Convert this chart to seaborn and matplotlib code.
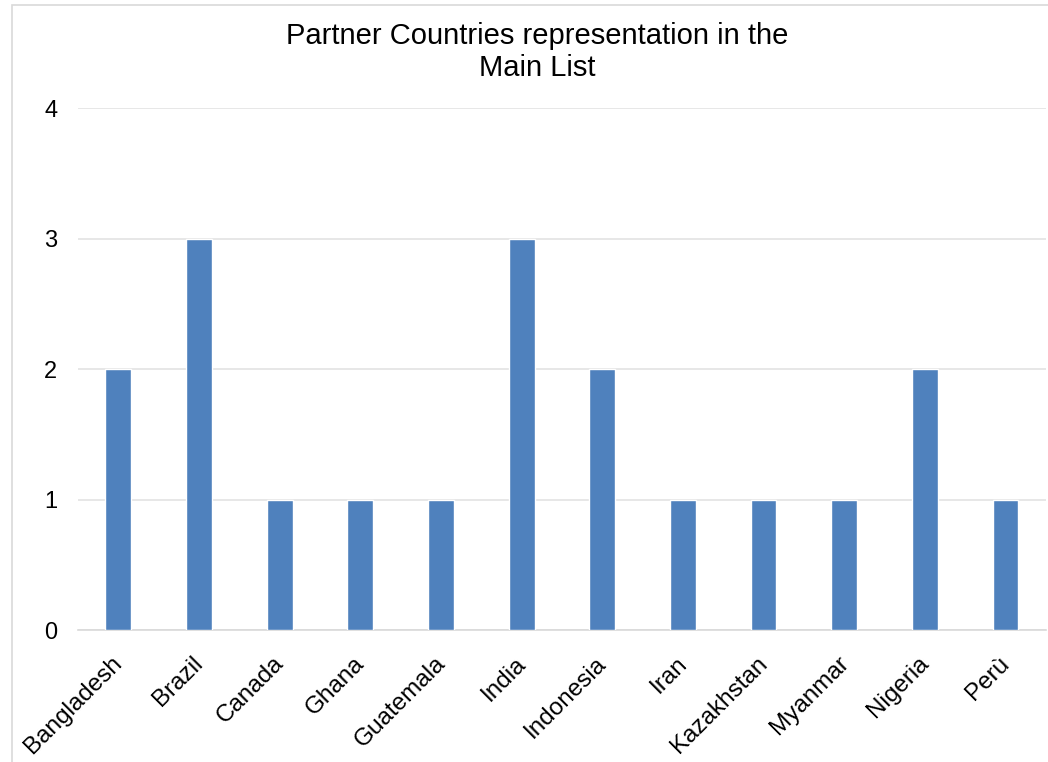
import matplotlib
matplotlib.use("Agg")
import matplotlib.pyplot as plt
import matplotlib.transforms as mtransforms
import seaborn as sns
import pandas as pd
from matplotlib.patches import Rectangle

countries = ["Bangladesh", "Brazil", "Canada", "Ghana", "Guatemala", "India",
             "Indonesia", "Iran", "Kazakhstan", "Myanmar", "Nigeria", "Perù"]
counts = [2, 3, 1, 1, 1, 3, 2, 1, 1, 1, 2, 1]

df = pd.DataFrame({"country": countries, "count": counts})

sns.set_style("white")
plt.rcParams["font.family"] = ["Liberation Sans", "DejaVu Sans"]
plt.rcParams["text.color"] = "black"
plt.rcParams["xtick.color"] = "black"
plt.rcParams["ytick.color"] = "black"

fig = plt.figure(figsize=(10.48, 7.62), dpi=100)
ax = fig.add_axes([0.0744, 0.1732, 0.9236, 0.685])

sns.barplot(data=df, x="country", y="count", color="#4F81BD", width=0.32,
            saturation=1, ax=ax, zorder=3)

ax.set_ylim(0, 4)
ax.set_xlim(-0.5, len(countries) - 0.5)
ax.set_yticks([0, 1, 2, 3, 4])
ax.yaxis.grid(True, color="#e3e3e3", linewidth=1.2, zorder=0)
ax.set_xlabel("")
ax.set_ylabel("")
for s in ["top", "right", "left"]:
    ax.spines[s].set_visible(False)
ax.spines["bottom"].set_color("#d9d9d9")
ax.spines["bottom"].set_linewidth(1.2)
ax.tick_params(axis="y", length=0, pad=15, labelsize=17, labelcolor="black")
ax.tick_params(axis="x", length=0, pad=14, labelsize=17.5, labelcolor="black")
shift = mtransforms.ScaledTranslation(-0.07, -0.03, fig.dpi_scale_trans)
for lab in ax.get_xticklabels():
    lab.set_rotation(45)
    lab.set_ha("right")
    lab.set_rotation_mode("anchor")
    lab.set_transform(lab.get_transform() + shift)

fig.text(0.513, 1 - 52 / 762, "Partner Countries representation in the\nMain List",
         ha="center", va="center", fontsize=21, linespacing=1.2)

# light outer frame of the chart box
fig.patches.append(Rectangle((12 / 1048, -0.1), 1.2, 1 - 5 / 762 + 0.1,
                             transform=fig.transFigure, fill=False,
                             edgecolor="#d9d9d9", linewidth=1.2))

fig.savefig("out.png", dpi=100)
